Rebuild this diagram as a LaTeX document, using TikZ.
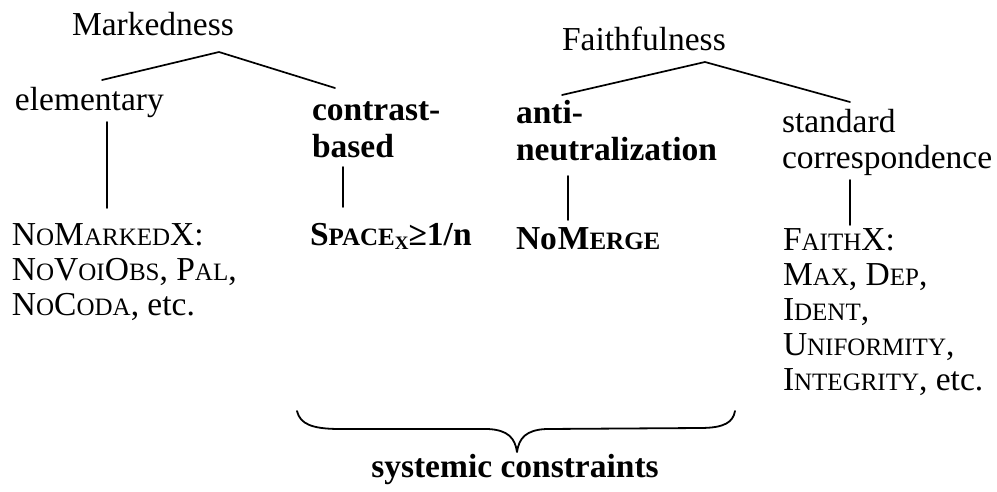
\documentclass[tikz,border=0pt]{standalone}
\usepackage{fontspec}
\setmainfont{Liberation Serif}
\newcommand\smc[1]{{\fontsize{25}{25}\selectfont #1}}
\newcommand\subx[1]{\raisebox{-4pt}{\fontsize{19}{19}\selectfont #1}}
\begin{document}
\begin{tikzpicture}[x=1pt,y=-1pt,
  lbl/.style={inner sep=0pt, outer sep=0pt, font=\fontsize{33.5}{35}\selectfont},
  lbltwo/.style={inner sep=0pt, outer sep=0pt, font=\fontsize{33.5}{36}\selectfont},
  bld/.style={inner sep=0pt, outer sep=0pt, font=\fontsize{33.5}{37}\selectfont\bfseries},
  edge/.style={line width=1.7pt, line cap=round},
  bracestyle/.style={line width=1.8pt, line cap=round, line join=round}]
\useasboundingbox (0,0) rectangle (997,491);

% top labels
\node[lbl, anchor=base west] (mark) at (72,35) {Markedness};
\node[lbl, anchor=base west] (faith) at (562,50) {Faithfulness};

% second row
\node[lbl, anchor=base west] (elem) at (15,110) {elementary};
\node[bld, anchor=north west, align=left] (contr) at (312,94.1) {\strut contrast-\\based};
\node[bld, anchor=north west, align=left] (anti) at (516,97.1) {\strut anti-\\neutralization};
\node[lbltwo, anchor=north west, align=left] (stand) at (782,106.8) {\strut standard\\correspondence};

% third row
\node[lbl, anchor=north west, align=left] (nomark) at (12,220.5)
  {\strut N\smc{O}M\smc{ARKED}X:\\N\smc{O}V\smc{OI}O\smc{BS}, P\smc{AL},\\N\smc{O}C\smc{ODA}, etc.};
\node[bld, anchor=base west] (space) at (310,245) {S\smc{PACE}\subx{X}≥1/n};
\node[bld, anchor=base west] (nomerge) at (516,249) {No\kern1pt M\smc{ERGE}};
\node[lbl, anchor=north west, align=left] (faithx) at (783,225.5)
  {\strut F\smc{AITH}X:\\M\smc{AX}, D\smc{EP},\\I\smc{DENT},\\U\smc{NIFORMITY},\\I\smc{NTEGRITY}, etc.};

% bottom label
\node[bld, anchor=base] (sys) at (515,477) {systemic constraints};

% tree coordinates
\coordinate (mapex) at (219,52);
\coordinate (mleft) at (102,80);
\coordinate (mright) at (335,88);
\coordinate (fapex) at (705,62);
\coordinate (fleft) at (562,95);
\coordinate (fright) at (850,102);

\coordinate (elemA) at (107,122);
\coordinate (elemB) at (107,208);
\coordinate (contrA) at (343,167);
\coordinate (contrB) at (343,207);
\coordinate (antiA) at (568,176);
\coordinate (antiB) at (568,220);
\coordinate (standA) at (850,180);
\coordinate (standB) at (850,225);

\draw[edge] (mleft) -- (mapex) -- (mright);
\draw[edge] (fleft) -- (fapex) -- (fright);
\draw[edge] (elemA) -- (elemB);
\draw[edge] (contrA) -- (contrB);
\draw[edge] (antiA) -- (antiB);
\draw[edge] (standA) -- (standB);

% brace
\draw[bracestyle] (297,411) .. controls (300,424) and (312,429) .. (340,429)
  -- (488,429) .. controls (508,430) and (515,438) .. (517,452)
  .. controls (519,438) and (526,430) .. (546,429)
  -- (700,428) .. controls (725,428) and (733,422) .. (735,411);
\end{tikzpicture}
\end{document}
